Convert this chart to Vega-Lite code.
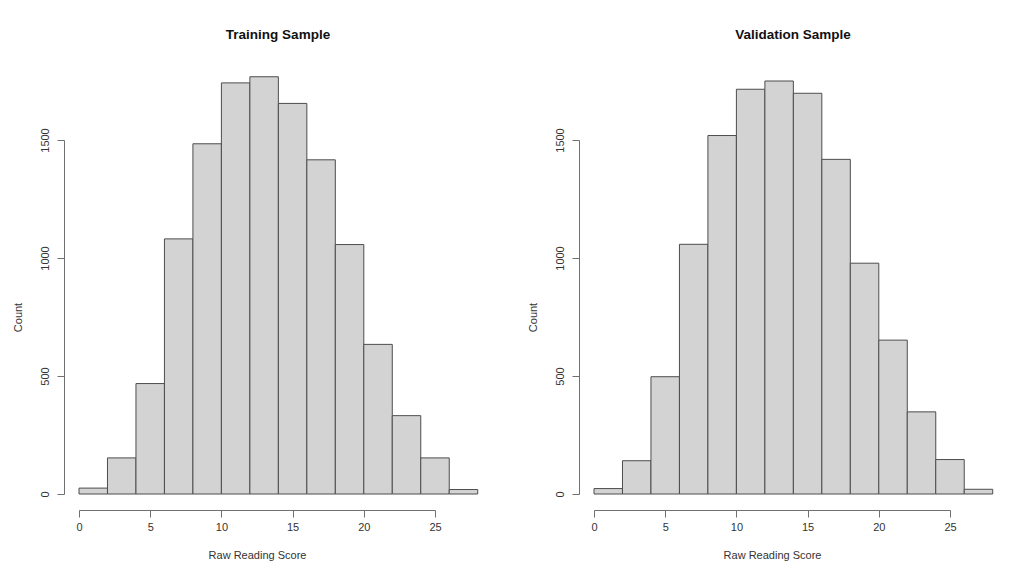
{
  "$schema": "https://vega.github.io/schema/vega-lite/v6.json",
  "padding": {"left": 11, "top": 27, "right": 5, "bottom": 5},
  "background": "white",
  "config": {
    "view": {"stroke": null},
    "font": "Liberation Sans",
    "axis": {
      "grid": false,
      "domainColor": "#707070",
      "tickColor": "#707070",
      "tickSize": 7,
      "labelColor": "#333333",
      "titleColor": "#333333",
      "labelFont": "Liberation Sans",
      "titleFont": "Liberation Sans",
      "labelFontSize": 11,
      "titleFontSize": 11,
      "titleFontWeight": "normal",
      "labelFlush": false,
      "labelOverlap": false
    },
    "title": {"font": "Liberation Sans", "fontSize": 13.5, "fontWeight": "bold", "color": "#111111"}
  },
  "datasets": {
    "training": [
      {"bin_start": 0, "bin_end": 2, "count": 25},
      {"bin_start": 2, "bin_end": 4, "count": 153},
      {"bin_start": 4, "bin_end": 6, "count": 468},
      {"bin_start": 6, "bin_end": 8, "count": 1081},
      {"bin_start": 8, "bin_end": 10, "count": 1484},
      {"bin_start": 10, "bin_end": 12, "count": 1742},
      {"bin_start": 12, "bin_end": 14, "count": 1768},
      {"bin_start": 14, "bin_end": 16, "count": 1655},
      {"bin_start": 16, "bin_end": 18, "count": 1416},
      {"bin_start": 18, "bin_end": 20, "count": 1057},
      {"bin_start": 20, "bin_end": 22, "count": 634},
      {"bin_start": 22, "bin_end": 24, "count": 332},
      {"bin_start": 24, "bin_end": 26, "count": 153},
      {"bin_start": 26, "bin_end": 28, "count": 19}
    ],
    "validation": [
      {"bin_start": 0, "bin_end": 2, "count": 23},
      {"bin_start": 2, "bin_end": 4, "count": 141},
      {"bin_start": 4, "bin_end": 6, "count": 497},
      {"bin_start": 6, "bin_end": 8, "count": 1058},
      {"bin_start": 8, "bin_end": 10, "count": 1519},
      {"bin_start": 10, "bin_end": 12, "count": 1715},
      {"bin_start": 12, "bin_end": 14, "count": 1750},
      {"bin_start": 14, "bin_end": 16, "count": 1698},
      {"bin_start": 16, "bin_end": 18, "count": 1418},
      {"bin_start": 18, "bin_end": 20, "count": 978},
      {"bin_start": 20, "bin_end": 22, "count": 652},
      {"bin_start": 22, "bin_end": 24, "count": 348},
      {"bin_start": 24, "bin_end": 26, "count": 146},
      {"bin_start": 26, "bin_end": 28, "count": 20}
    ]
  },
  "spacing": 47,
  "hconcat": [
    {
      "data": {"name": "training"},
      "width": 356,
      "height": 354,
      "title": {"text": "Training Sample", "frame": "group", "anchor": "middle", "dx": 21, "offset": 35},
      "mark": {"type": "bar", "fill": "#d3d3d3", "stroke": "#4d4d4d", "strokeWidth": 1, "clip": false},
      "encoding": {
        "x": {"field": "bin_start", "type": "quantitative", "scale": {"domain": [0, 25], "nice": false, "zero": false},
              "axis": {"values": [0, 5, 10, 15, 20, 25], "offset": 16, "title": "Raw Reading Score", "labelPadding": 4, "titlePadding": 17}},
        "x2": {"field": "bin_end"},
        "y": {"field": "count", "type": "quantitative", "scale": {"domain": [0, 1500], "nice": false},
              "axis": {"values": [0, 500, 1000, 1500], "format": "d", "offset": 15, "title": "Count", "labelAngle": -90, "labelAlign": "center", "labelBaseline": "bottom", "labelPadding": 7, "titlePadding": 16}},
        "y2": {"datum": 0}
      }
    },
    {
      "data": {"name": "validation"},
      "width": 356,
      "height": 354,
      "title": {"text": "Validation Sample", "frame": "group", "anchor": "middle", "dx": 21, "offset": 39},
      "mark": {"type": "bar", "fill": "#d3d3d3", "stroke": "#4d4d4d", "strokeWidth": 1, "clip": false},
      "encoding": {
        "x": {"field": "bin_start", "type": "quantitative", "scale": {"domain": [0, 25], "nice": false, "zero": false},
              "axis": {"values": [0, 5, 10, 15, 20, 25], "offset": 16, "title": "Raw Reading Score", "labelPadding": 4, "titlePadding": 17}},
        "x2": {"field": "bin_end"},
        "y": {"field": "count", "type": "quantitative", "scale": {"domain": [0, 1500], "nice": false},
              "axis": {"values": [0, 500, 1000, 1500], "format": "d", "offset": 15, "title": "Count", "labelAngle": -90, "labelAlign": "center", "labelBaseline": "bottom", "labelPadding": 7, "titlePadding": 16}},
        "y2": {"datum": 0}
      }
    }
  ]
}
